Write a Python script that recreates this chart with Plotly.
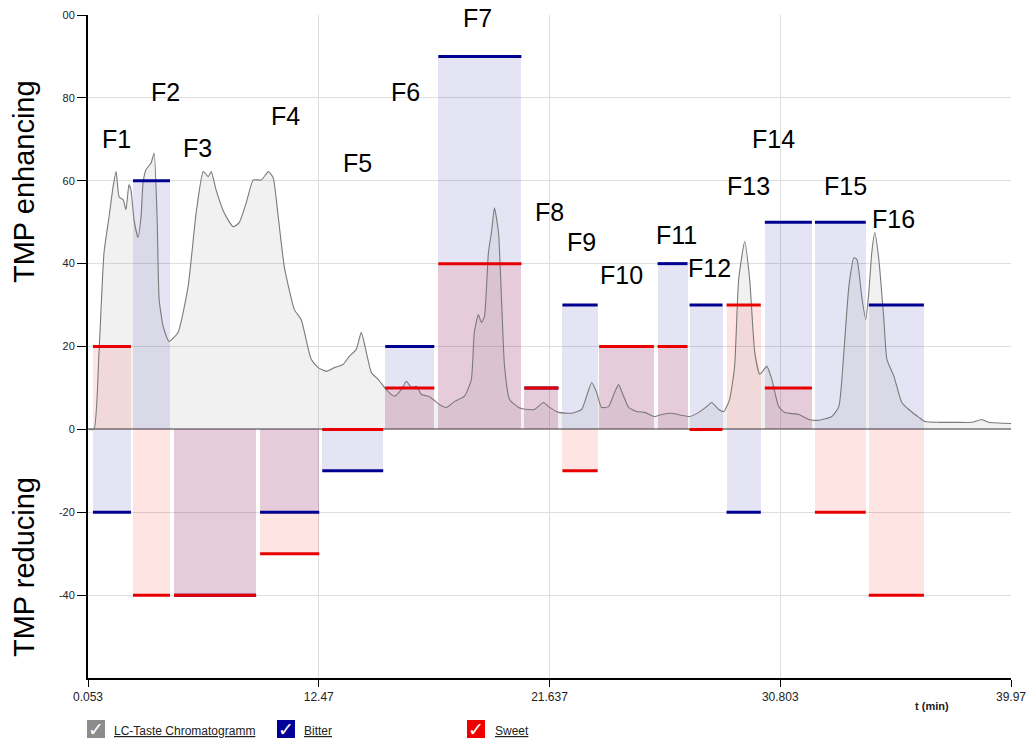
import plotly.graph_objects as go
import numpy as np

# ---------------- data ----------------
fractions = ["F1", "F2", "F3", "F4", "F5", "F6", "F7", "F8",
             "F9", "F10", "F11", "F12", "F13", "F14", "F15", "F16"]
frac_start = [3.50, 5.09, 6.72, 10.14, 12.61, 15.11, 17.22, 20.64,
              22.15, 23.62, 25.93, 27.20, 28.67, 30.19, 32.18, 34.32]
frac_end = [5.01, 6.56, 9.98, 12.49, 15.03, 17.06, 20.52, 21.99,
            23.55, 25.77, 27.12, 28.51, 30.03, 32.06, 34.20, 36.51]
bitter = [-20, 60, -40, -20, -10, 20, 90, 10, 30, 20, 40, 30, -20, 50, 50, 30]
sweet = [20, -40, -40, -30, 0, 10, 40, 10, -10, 20, 20, 0, 30, 10, -20, -40]

label_t = [4.42, 6.40, 7.64, 11.14, 14.00, 15.91, 18.77, 21.64,
           22.91, 24.50, 26.69, 28.00, 29.55, 30.54, 33.41, 35.32]
label_y = [70.0, 81.4, 68.0, 75.7, 64.3, 81.4, 99.3, 52.5,
           45.1, 37.3, 47.0, 39.0, 58.8, 70.1, 58.8, 50.8]

chrom_t = [3.34, 3.54, 3.74, 3.94, 4.14, 4.30, 4.42, 4.54, 4.70, 4.81, 4.93, 5.01,
           5.13, 5.29, 5.41, 5.49, 5.61, 5.81, 5.93, 6.05, 6.13, 6.29, 6.52, 6.88,
           7.28, 7.60, 7.88, 8.08, 8.20, 8.39, 8.71, 9.07, 9.31, 9.59, 9.87, 10.19,
           10.47, 10.66, 10.86, 11.10, 11.50, 11.77, 12.17, 12.45, 12.77, 13.09, 13.44,
           13.68, 13.96, 14.16, 14.36, 14.56, 14.84, 15.15, 15.47, 15.75, 15.95, 16.15,
           16.35, 16.55, 16.83, 17.02, 17.26, 17.54, 17.86, 18.26, 18.53, 18.65, 18.81,
           18.93, 19.05, 19.21, 19.33, 19.45, 19.61, 19.73, 19.85, 20.05, 20.41, 20.80,
           21.04, 21.40, 21.64, 22.00, 22.51, 22.91, 23.11, 23.31, 23.51, 23.70, 23.98,
           24.22, 24.38, 24.58, 24.78, 25.10, 25.42, 25.81, 26.09, 26.49, 26.89, 27.20,
           27.56, 27.88, 28.08, 28.36, 28.56, 28.79, 28.99, 29.15, 29.39, 29.59, 29.79,
           29.99, 30.27, 30.47, 30.74, 30.98, 31.54, 31.94, 32.33, 32.85, 33.13, 33.33,
           33.53, 33.73, 33.85, 34.04, 34.20, 34.32, 34.44, 34.56, 34.72, 34.92, 35.04,
           35.32, 35.63, 35.91, 36.31, 36.55, 37.11, 37.74, 38.42, 38.81, 39.09, 39.97]
chrom_y = [0.0, 0.0, 18.6, 42.7, 51.3, 58.6, 62.2, 56.1, 55.4, 53.0, 59.0, 57.8,
           50.6, 46.3, 51.3, 59.5, 62.7, 64.3, 66.7, 50.6, 31.3, 24.8, 21.2, 23.4,
           34.5, 52.3, 62.2, 61.0, 62.2, 57.8, 52.3, 48.9, 49.9, 54.7, 60.2, 60.2,
           62.2, 60.7, 51.3, 39.3, 28.9, 26.5, 16.9, 14.9, 14.0, 14.9, 15.7,
           17.6, 19.3, 23.4, 18.6, 13.7, 12.0, 9.6, 8.0, 9.6, 11.6, 10.1,
           10.4, 8.4, 8.0, 7.2, 6.0, 5.3, 6.7, 8.0, 12.0, 23.4, 27.7,
           25.8, 27.2, 42.7, 47.5, 53.5, 47.5, 31.3, 15.2, 7.2, 5.3, 4.8,
           4.8, 6.5, 5.3, 4.1, 3.9, 4.8, 8.0, 11.3, 8.9, 5.3, 5.5,
           8.9, 10.8, 8.0, 5.3, 4.3, 4.1, 3.1, 3.6, 3.9, 3.4, 3.1,
           4.1, 5.5, 6.5, 4.8, 4.3, 7.2, 15.2, 36.1, 45.3, 36.1, 18.6,
           13.3, 15.2, 12.0, 5.5, 4.1, 3.6, 2.4, 2.2, 3.1, 5.5, 18.6,
           34.5, 41.4, 41.0, 32.0, 26.5, 33.0, 42.7, 47.5, 41.0, 26.5, 16.9,
           12.8, 6.5, 4.8, 2.9, 1.9, 1.7, 1.7, 1.7, 2.4, 1.7, 1.4]

x_tickvals = [3.303, 12.47, 21.637, 30.803, 39.97]
x_ticktext = ["0.053", "12.47", "21.637", "30.803", "39.97"]
y_tickvals = [-40, -20, 0, 20, 40, 60, 80, 100]
y_ticktext = ["-40", "-20", "0", "20", "40", "60", "80", "00"]

# ---------------- styles ----------------
W, H = 1028, 748
ML, MR, MT, MB = 88, 17, 15, 70
FONT = "Liberation Sans, Arial, Helvetica, sans-serif"
BITTER_LINE = "#000090"
SWEET_LINE = "#e80000"
BITTER_FILL = "rgba(0,0,160,0.106)"
SWEET_FILL = "rgba(255,0,0,0.105)"

start = np.array(frac_start)
end = np.array(frac_end)
centers = (start + end) / 2
widths = end - start


def seg(vals):
    xs, ys = [], []
    for s, e, v in zip(frac_start, frac_end, vals):
        xs += [s, e, None]
        ys += [v, v, None]
    return xs, ys


fig = go.Figure()
fig.add_trace(go.Bar(x=centers, y=bitter, base=0, width=widths,
                     marker=dict(color=BITTER_FILL, line=dict(width=0)),
                     name="Bitter", hoverinfo="skip"))
fig.add_trace(go.Bar(x=centers, y=sweet, base=0, width=widths,
                     marker=dict(color=SWEET_FILL, line=dict(width=0)),
                     name="Sweet", hoverinfo="skip"))
fig.add_trace(go.Scatter(x=chrom_t, y=chrom_y, mode="lines", fill="tozeroy",
                         fillcolor="rgba(128,128,128,0.11)",
                         line=dict(color="#7a7a7a", width=1.1, shape="spline", smoothing=0.5),
                         name="LC-Taste Chromatogramm"))
bx, by = seg(bitter)
fig.add_trace(go.Scatter(x=bx, y=by, mode="lines",
                         line=dict(color=BITTER_LINE, width=3), name="Bitter level"))
sx, sy = seg(sweet)
fig.add_trace(go.Scatter(x=sx, y=sy, mode="lines",
                         line=dict(color=SWEET_LINE, width=3), name="Sweet level"))

annotations = []
for name, t, y in zip(fractions, label_t, label_y):
    annotations.append(dict(x=t, y=y, xref="x", yref="y", text=name, showarrow=False,
                            font=dict(family=FONT, size=25, color="#000"),
                            xanchor="center", yanchor="middle"))


def px(x):
    return (x - ML) / (W - ML - MR)


def py(y):
    return (H - MB - y) / (H - MT - MB)


annotations += [
    dict(x=px(24), y=py(182), xref="paper", yref="paper", text="TMP enhancing",
         textangle=-90, showarrow=False, font=dict(family=FONT, size=29, color="#000"),
         xanchor="center", yanchor="middle"),
    dict(x=px(24), y=py(567), xref="paper", yref="paper", text="TMP reducing",
         textangle=-90, showarrow=False, font=dict(family=FONT, size=29, color="#000"),
         xanchor="center", yanchor="middle"),
    dict(x=px(932), y=py(706), xref="paper", yref="paper", text="<b>t (min)</b>",
         showarrow=False, font=dict(family=FONT, size=11, color="#222"),
         xanchor="center", yanchor="middle"),
]

shapes = []
legend_items = [("LC-Taste Chromatogramm", "#8c8c8c", 87, 112),
                ("Bitter", "#000099", 277, 302),
                ("Sweet", "#ee0000", 467, 493)]
for text, col, bx0, tx0 in legend_items:
    shapes.append(dict(type="rect", xref="paper", yref="paper",
                       x0=px(bx0), x1=px(bx0 + 18), y0=py(720), y1=py(738),
                       fillcolor=col, line=dict(width=0)))
    annotations.append(dict(x=px(bx0 + 9), y=py(729), xref="paper", yref="paper",
                            text="✓", showarrow=False,
                            font=dict(family="DejaVu Sans", size=19, color="white"),
                            xanchor="center", yanchor="middle"))
    annotations.append(dict(x=px(tx0), y=py(731), xref="paper", yref="paper",
                            text="<span style='text-decoration:underline'>" + text + "</span>",
                            showarrow=False,
                            font=dict(family=FONT, size=12, color="#222"),
                            xanchor="left", yanchor="middle"))

fig.update_layout(
    width=W, height=H,
    margin=dict(l=ML, r=MR, t=MT, b=MB, autoexpand=False),
    paper_bgcolor="white", plot_bgcolor="white",
    barmode="overlay", bargap=0,
    showlegend=False,
    annotations=annotations, shapes=shapes,
    font=dict(family=FONT, size=11, color="#222"),
    xaxis=dict(range=[3.303, 39.97], tickvals=x_tickvals, ticktext=x_ticktext,
               automargin=False,
               showgrid=True, gridcolor="#dedede", gridwidth=1,
               showline=True, linecolor="black", linewidth=2,
               ticks="outside", ticklen=7, tickcolor="black", tickwidth=1,
               zeroline=False, tickfont=dict(size=12, color="#222")),
    yaxis=dict(range=[-60, 100], tickvals=y_tickvals, ticktext=y_ticktext,
               automargin=False,
               showgrid=True, gridcolor="#dedede", gridwidth=1,
               showline=True, linecolor="black", linewidth=2,
               ticks="outside", ticklen=9, tickcolor="black", tickwidth=1,
               zeroline=True, zerolinecolor="#999999", zerolinewidth=1.5,
               tickfont=dict(size=11, color="#222")),
)

fig.write_html("out.html", config={"displayModeBar": False},
               post_script="document.body.style.margin='0';document.body.style.overflow='hidden';")
